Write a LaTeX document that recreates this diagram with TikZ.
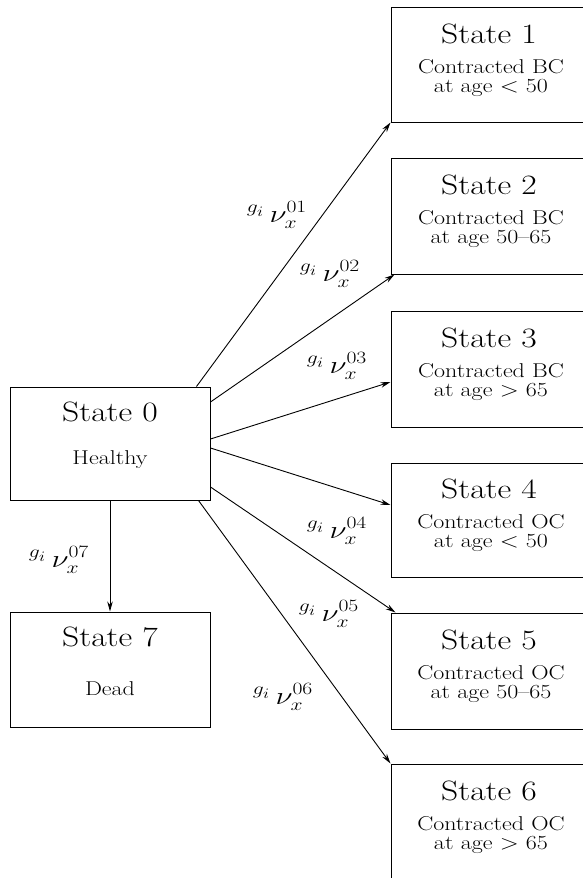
\documentclass[tikz,border=0pt]{standalone}
\usepackage{graphicx}
\usetikzlibrary{arrows.meta,calc}
\newcommand{\sttl}[1]{\scalebox{1.2}[1]{\fontsize{28}{30}\selectfont #1}}
\newcommand{\ssub}[1]{\scalebox{1.2}[1]{\fontsize{20}{18}\selectfont #1}}
\newcommand{\rlab}[1]{\scalebox{1.25}[1]{\fontsize{27}{29}\selectfont ${}^{g_i}\,\nu_x^{#1}$}}
\begin{document}
\begin{tikzpicture}[x=1pt,y=-1pt,
  box/.style={draw,line width=1pt,minimum width=200pt,inner sep=0pt},
  conn/.style={line width=0.9pt,-{Stealth[length=10pt,width=5.5pt]}},
  txt/.style={inner sep=0pt,anchor=center}]
\useasboundingbox (0,0) rectangle (583,878);
\clip (0,0) rectangle (583,878);
% left boxes
\node[box,minimum height=113pt] (s0) at (110,443.5) {};
\node[box,minimum height=115pt] (s7) at (110,669.5) {};
% right boxes
\node[box,minimum height=115pt] (s1) at (491,64.5) {};
\node[box,minimum height=116pt] (s2) at (491,216) {};
\node[box,minimum height=116pt] (s3) at (491,369) {};
\node[box,minimum height=114pt] (s4) at (491,520) {};
\node[box,minimum height=116pt] (s5) at (491,671) {};
\node[box,minimum height=116pt] (s6) at (491,822) {};
% texts
\node[txt] (t0a) at (110,412) {\sttl{State 0}};
\node[txt] (t0b) at (110,460) {\ssub{Healthy}};
\node[txt] (t7a) at (110,637) {\sttl{State 7}};
\node[txt] (t7b) at (110,689) {\ssub{Dead}};
\foreach \n/\yy/\la/\lb in {1/7/BC/at age $<$ 50, 2/158/BC/at age 50--65, 3/311/BC/at age $>$ 65, 4/462/OC/at age $<$ 50, 5/613/OC/at age 50--65, 6/764/OC/at age $>$ 65}{
  \node[txt] (h\n) at (489,\yy+27) {\sttl{State \n}};
  \node[txt] (c\n) at (491,\yy+72) {\ssub{\begin{tabular}{@{}c@{}}Contracted \la\\ \lb\end{tabular}}};
}
% connectors
\draw[conn] ($(s0.north east)+(-14,0)$) -- (s1.south west);
\draw[conn] ($(s0.east)+(0,-41.5)$) -- ($(s2.south west)+(4,0)$);
\draw[conn] ($(s0.east)+(0,-4.5)$) -- ($(s3.west)+(0,13)$);
\draw[conn] ($(s0.east)+(0,4.5)$) -- ($(s4.west)+(0,-15)$);
\draw[conn] ($(s0.east)+(0,43.5)$) -- ($(s5.north west)+(5,0)$);
\draw[conn] ($(s0.south east)+(-12,0)$) -- (s6.north west);
\draw[conn] (s0.south) -- (s7.north);
% labels
\node[txt] (l1) at (277,215) {\rlab{01}};
\node[txt] (l2) at (330,274) {\rlab{02}};
\node[txt] (l3) at (337,366) {\rlab{03}};
\node[txt] (l4) at (337,531) {\rlab{04}};
\node[txt] (l5) at (329,614) {\rlab{05}};
\node[txt] (l6) at (283,697) {\rlab{06}};
\node[txt] (l7) at (59,560) {\rlab{07}};
\end{tikzpicture}
\end{document}
